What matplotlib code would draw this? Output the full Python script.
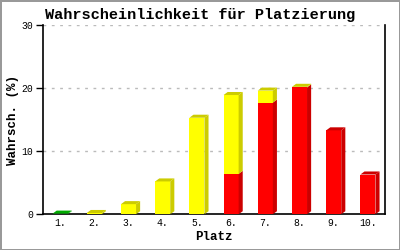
import matplotlib
matplotlib.use("Agg")
import matplotlib.pyplot as plt
from matplotlib.patches import Polygon, Rectangle

# Wahrscheinlichkeit je Platz, gestapelt von unten: gruen / rot / gelb
plaetze = ["1.", "2.", "3.", "4.", "5.", "6.", "7.", "8.", "9.", "10."]
gruen = [0.1, 0, 0, 0, 0, 0, 0, 0, 0, 0]
rot = [0, 0, 0, 0, 0, 6.4, 17.7, 20.1, 13.3, 6.3]
gelb = [0, 0.2, 1.6, 5.2, 15.3, 12.5, 1.9, 0.1, 0, 0]
yticks = [0, 10, 20, 30]

farben = [("#00cc00", "#00aa00"), ("#ff0000", "#cc0000"), ("#ffff00", "#cccc00")]
reihen = [gruen, rot, gelb]

plt.rcParams['font.family'] = ['Liberation Mono', 'DejaVu Sans Mono']

fig = plt.figure(figsize=(4, 2.5), dpi=100)
fig.patch.set_edgecolor("#999999")
fig.patch.set_linewidth(2)
ax = fig.add_axes([0.1075, 0.143, 0.855, 0.757])

w = 0.44
dx, dy = 0.12, 0.48
for i in range(len(plaetze)):
    x = i + 1
    unten = 0
    segs = [(r[i], f) for r, f in zip(reihen, farben) if r[i] > 0]
    for k, (v, (hell, dunkel)) in enumerate(segs):
        oben = unten + v
        ax.add_patch(Rectangle((x - w / 2, unten), w, v, fc=hell, ec="none", zorder=3))
        ax.add_patch(Polygon([(x + w / 2, unten), (x + w / 2 + dx, unten + dy),
                              (x + w / 2 + dx, oben + dy), (x + w / 2, oben)],
                             closed=True, fc=dunkel, ec="none", zorder=3))
        if k == len(segs) - 1:
            ax.add_patch(Polygon([(x - w / 2, oben), (x - w / 2 + dx, oben + dy),
                                  (x + w / 2 + dx, oben + dy), (x + w / 2, oben)],
                                 closed=True, fc=dunkel, ec="none", zorder=3))
        unten = oben

ax.set_xlim(0.5, 10.5)
ax.set_ylim(0, 30)
ax.set_xticks(range(1, 11))
ax.set_xticklabels(plaetze, fontsize=7)
ax.set_yticks(yticks)
ax.set_yticklabels([str(t) for t in yticks], fontsize=7)
ax.tick_params(axis="x", length=0, pad=3)
ax.tick_params(axis="y", length=5, width=1, direction="out", pad=2)
for t in yticks[1:]:
    ax.axhline(t, color="#bbbbbb", lw=1, ls=(0, (2, 4)), zorder=1)
ax.spines["top"].set_visible(False)
for s in ["left", "bottom", "right"]:
    ax.spines[s].set_linewidth(1.2)

fig.text(0.5, 1 - 18.5 / 250, "Wahrscheinlichkeit für Platzierung",
         fontsize=11, fontweight="bold", ha="center", va="baseline")
ax.set_ylabel("Wahrsch. (%)", fontsize=9, fontweight="bold", labelpad=2)
ax.set_xlabel("Platz", fontsize=9, fontweight="bold", labelpad=2)

fig.savefig("out.png", dpi=100, edgecolor=fig.get_edgecolor())
